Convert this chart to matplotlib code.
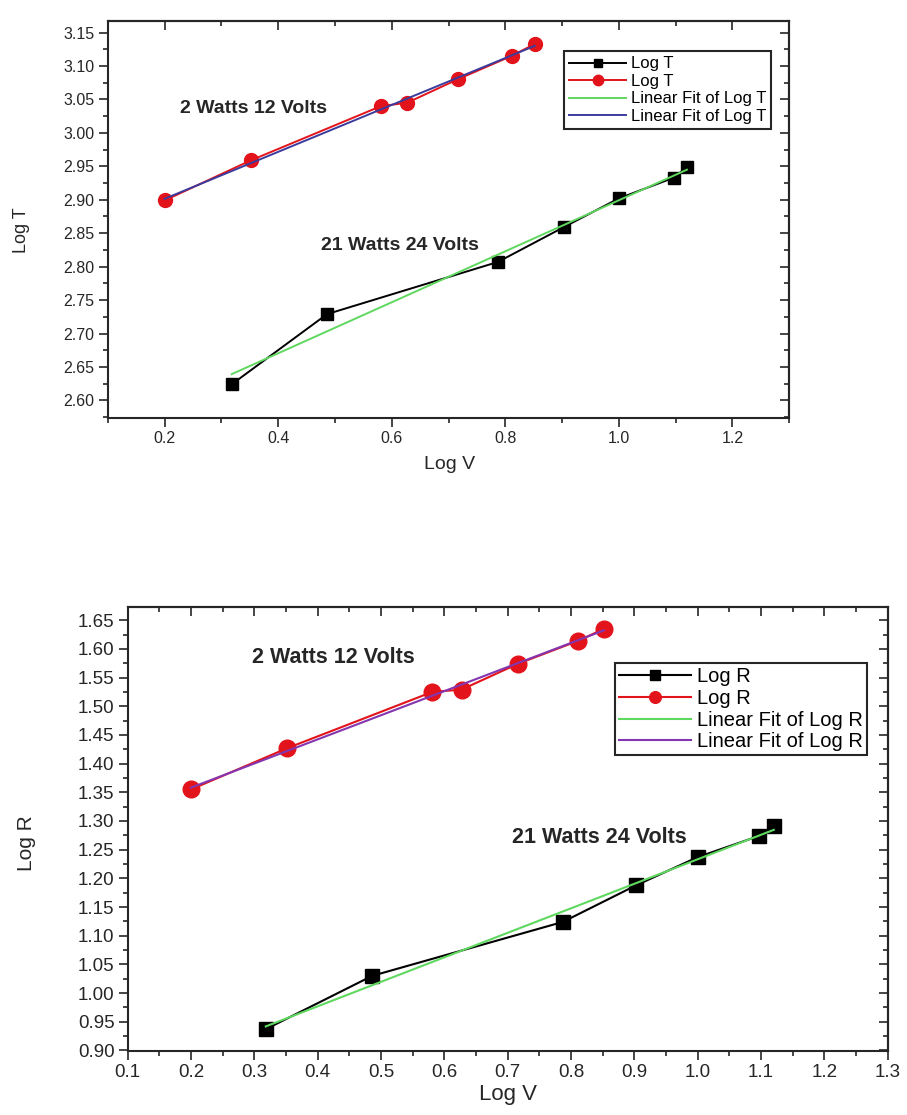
import numpy as np
import matplotlib
matplotlib.use("Agg")
import matplotlib.pyplot as plt
from matplotlib.ticker import MultipleLocator, FormatStrFormatter

plt.rcParams["font.family"] = ["Liberation Sans", "DejaVu Sans"]

# values
log_v_12 = [0.200, 0.352, 0.581, 0.627, 0.716, 0.811, 0.852]
log_v_24 = [0.318, 0.486, 0.787, 0.903, 1.000, 1.097, 1.120]
log_t_12 = [2.899, 2.959, 3.040, 3.045, 3.080, 3.115, 3.133]
log_t_24 = [2.624, 2.729, 2.807, 2.859, 2.902, 2.933, 2.949]
log_r_12 = [1.355, 1.427, 1.525, 1.529, 1.574, 1.614, 1.635]
log_r_24 = [0.937, 1.030, 1.124, 1.188, 1.237, 1.274, 1.292]

RED = "#e3131b"
GREEN = "#5fd85f"
TEXT = "#262626"


def linear_fit(x, y):
    slope, intercept = np.polyfit(x, y, 1)
    xs = np.array([min(x), max(x)])
    return xs, slope * xs + intercept


def style_axes(ax, xmaj, xmin, ymaj, ymin, xfmt, fs, tick_len):
    ax.xaxis.set_major_locator(MultipleLocator(xmaj))
    ax.xaxis.set_minor_locator(MultipleLocator(xmin))
    ax.yaxis.set_major_locator(MultipleLocator(ymaj))
    ax.yaxis.set_minor_locator(MultipleLocator(ymin))
    ax.xaxis.set_major_formatter(FormatStrFormatter(xfmt))
    ax.yaxis.set_major_formatter(FormatStrFormatter("%.2f"))
    ax.tick_params(which="both", direction="out", width=1.2, colors=TEXT,
                   labelsize=fs, top=False, right=False)
    ax.tick_params(which="major", length=tick_len, pad=3)
    ax.tick_params(which="minor", length=tick_len * 0.55)
    for sp in ax.spines.values():
        sp.set_linewidth(1.5)
        sp.set_color(TEXT)

    top = ax.secondary_xaxis("top")
    top.xaxis.set_major_locator(MultipleLocator(xmaj))
    top.xaxis.set_minor_locator(MultipleLocator(xmin))
    top.tick_params(which="both", direction="in", width=1.2, colors=TEXT, labeltop=False)
    top.tick_params(which="major", length=tick_len)
    top.tick_params(which="minor", length=tick_len * 0.55)
    top.spines["top"].set_linewidth(1.5)

    right = ax.secondary_yaxis("right")
    right.yaxis.set_major_locator(MultipleLocator(ymaj))
    right.yaxis.set_minor_locator(MultipleLocator(ymin))
    right.tick_params(which="both", direction="in", width=1.2, colors=TEXT, labelright=False)
    right.tick_params(which="major", length=tick_len)
    right.tick_params(which="minor", length=tick_len * 0.55)
    right.spines["right"].set_linewidth(1.5)


def draw_panel(ax, y_24, y_12, name, fit12_color, ms, lw):
    ax.plot(log_v_24, y_24, "-s", color="black", lw=lw, ms=ms * 0.8, label=name)
    ax.plot(log_v_12, y_12, "-o", color=RED, lw=lw, ms=ms, label=name)
    fx, fy = linear_fit(log_v_24, y_24)
    ax.plot(fx, fy, color=GREEN, lw=lw, label="Linear Fit of " + name)
    fx, fy = linear_fit(log_v_12, y_12)
    ax.plot(fx, fy, color=fit12_color, lw=lw, label="Linear Fit of " + name)


fig = plt.figure(figsize=(9.07, 11.15), dpi=100)

# top panel: Log T
ax_t = fig.add_axes([0.119, 0.625, 0.751, 0.356])
draw_panel(ax_t, log_t_24, log_t_12, "Log T", "#3b3b9e", ms=10, lw=1.4)
ax_t.set_xlim(0.1, 1.3)
ax_t.set_ylim(2.5735, 3.167)
style_axes(ax_t, 0.2, 0.1, 0.05, 0.025, "%.1f", 11.5, 6.5)
ax_t.set_xlabel("Log V", fontsize=14, color=TEXT)
ax_t.xaxis.set_label_coords(0.502, -0.095)
ax_t.set_ylabel("Log T", fontsize=13, color=TEXT)
ax_t.yaxis.set_label_coords(-0.115, 0.474)
ax_t.text(0.357, 3.036, "2 Watts 12 Volts", fontsize=14, fontweight="bold",
          color=TEXT, ha="center", va="center")
ax_t.text(0.614, 2.831, "21 Watts 24 Volts", fontsize=14, fontweight="bold",
          color=TEXT, ha="center", va="center")
leg = ax_t.legend(loc="upper right", bbox_to_anchor=(0.974, 0.924), borderaxespad=0,
                  fontsize=12, labelspacing=0.15, handlelength=3.4, handletextpad=0.3,
                  borderpad=0.3, fancybox=False, framealpha=1, edgecolor=TEXT,
                  markerscale=0.75)
leg.get_frame().set_linewidth(1.5)

# bottom panel: Log R
ax_r = fig.add_axes([0.1408, 0.0574, 0.838, 0.3982])
draw_panel(ax_r, log_r_24, log_r_12, "Log R", "#8436b0", ms=12, lw=1.5)
ax_r.set_xlim(0.1, 1.3)
ax_r.set_ylim(0.899, 1.673)
style_axes(ax_r, 0.1, 0.05, 0.05, 0.025, "%.1f", 13.5, 6.5)
ax_r.set_xlabel("Log V", fontsize=16, color=TEXT)
ax_r.xaxis.set_label_coords(0.500, -0.074)
ax_r.set_ylabel("Log R", fontsize=15, color=TEXT)
ax_r.yaxis.set_label_coords(-0.12, 0.468)
ax_r.text(0.424, 1.5855, "2 Watts 12 Volts", fontsize=15.5, fontweight="bold",
          color=TEXT, ha="center", va="center")
ax_r.text(0.845, 1.2715, "21 Watts 24 Volts", fontsize=15.5, fontweight="bold",
          color=TEXT, ha="center", va="center")
leg = ax_r.legend(loc="upper right", bbox_to_anchor=(0.973, 0.874), borderaxespad=0,
                  fontsize=14.5, labelspacing=0.14, handlelength=3.6, handletextpad=0.3,
                  borderpad=0.2, fancybox=False, framealpha=1, edgecolor=TEXT,
                  markerscale=0.7)
leg.get_frame().set_linewidth(1.5)

fig.savefig("out.png", dpi=100)
